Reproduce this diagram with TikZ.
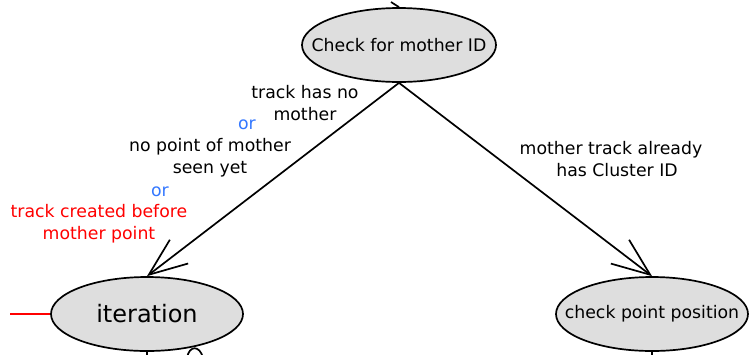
\documentclass[tikz,border=0pt]{standalone}
\usepackage{fontspec}
\setmainfont{DejaVu Sans}
\usetikzlibrary{shapes.geometric,arrows.meta}
\definecolor{statefill}{RGB}{222,222,222}
\definecolor{orblue}{RGB}{51,119,255}
\definecolor{condred}{RGB}{255,0,0}
% state text is boxed at zero width so the ellipse keeps its set size
\newcommand{\statetext}[1]{\makebox[0pt][c]{#1}}
\begin{document}
\begin{tikzpicture}[x=1pt,y=-1pt,
  state/.style={ellipse,draw=black,line width=1.7pt,fill=statefill,inner sep=0pt,
    minimum width=194pt,minimum height=74pt,font=\fontsize{17.3}{22}\selectfont},
  cond/.style={align=center,inner sep=0pt,font=\fontsize{17.3}{22}\selectfont},
  trans/.style={line width=1.7pt,-{Straight Barb[length=38pt,width=30pt]}},
  stub/.style={line width=1.7pt}]
\useasboundingbox (0,0) rectangle (749,354);
\clip (0,0) rectangle (749,354);

% states
\node[state] (mother) at (399,45) {\statetext{Check for mother ID}};
\node[state,minimum width=192pt,font=\fontsize{24}{28}\selectfont] (iter) at (147,314) {\statetext{iteration}};
\node[state,minimum width=192pt] (pos) at (652,314) {\statetext{check point position}};

% transitions
\draw[trans] (mother.south) -- (iter.north);
\draw[trans] (mother.south) -- (pos.north);

% transition conditions
\node[cond] (c1) at (305,103) {track has no\\mother};
\node[cond,text=orblue] (or1) at (247,125) {or};
\node[cond] (c2) at (210,158) {no point of mother\\seen yet};
\node[cond,text=orblue] (or2) at (160,192) {or};
\node[cond,text=condred] (c3) at (99,224) {track created before\\mother point};
\node[cond] (c4) at (611,159) {mother track already\\\hspace*{12pt}has Cluster ID};

% partly visible connectors at the border
\coordinate (redin) at (10,314);
\draw[condred,line width=1.2pt] (redin) -- (iter.west);
\coordinate (topin) at (391,2);
\draw[stub] (topin) -- (mother.north);
\coordinate (iterout) at (147,360);
\draw[stub] (iter.south) -- (iterout);
\coordinate (posout) at (652,360);
\draw[stub] (pos.south) -- (posout);
\coordinate (loopa) at (187,358);
\coordinate (loopb) at (203,358);
\draw[stub] (loopa) .. controls (189,345) and (200,345) .. (loopb);
\end{tikzpicture}
\end{document}
